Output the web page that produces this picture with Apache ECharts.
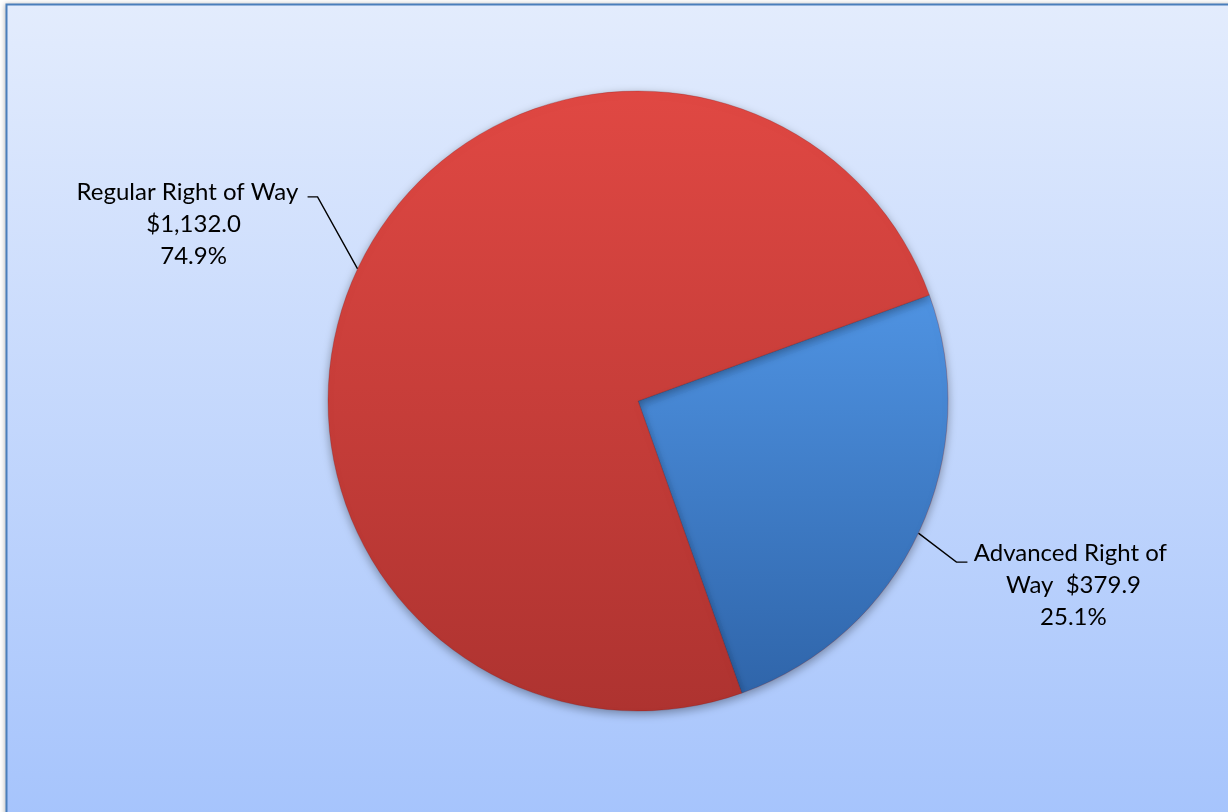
<!DOCTYPE html>
<html>
<head>
<meta charset="utf-8">
<script src="https://cdn.jsdelivr.net/npm/echarts@6/dist/echarts.min.js"></script>
<style>
  html, body { margin: 0; padding: 0; background: #ffffff; overflow: hidden; }
  #chart { width: 1228px; height: 812px; }
</style>
</head>
<body>
<div id="chart"></div>
<script>
// Right of way spending split (millions of dollars)
const categories = ['Advanced Right of Way', 'Regular Right of Way'];
const values = [379.9, 1132.0];
// Label wrap widths per slice, so the text breaks onto lines like the printed labels
const labelWidths = [205, 250];

const sliceColors = [
  ['#4f93e2', '#2f65aa'],
  ['#e04843', '#ae3330']
];

// Leader-line shape per slice: elbow offset from the rim, then a short horizontal tail,
// and where the text block sits relative to the tail end.
const leaders = [
  { elbow: [38, 29], tail: 11, textDx: 106, textDy: -25 },
  { elbow: [-40, -72], tail: -10, textDx: -114, textDy: -21 }
];

function money(v) {
  return '$' + v.toLocaleString('en-US', { minimumFractionDigits: 1, maximumFractionDigits: 1 });
}

const chart = echarts.init(document.getElementById('chart'), null, { renderer: 'canvas' });

const option = {
  animation: false,
  graphic: [{
    // panel fill with a soft drop shadow
    type: 'rect',
    z: -10,
    shape: { x: 6, y: 4, width: 1300, height: 900 },
    style: {
      fill: new echarts.graphic.LinearGradient(0, 0, 0, 812 / 900, [
        { offset: 0, color: '#e3ecfd' },
        { offset: 1, color: '#a6c4fc' }
      ]),
      shadowBlur: 5,
      shadowColor: 'rgba(0,0,0,0.3)',
      shadowOffsetX: -1
    }
  }, {
    // panel outline
    type: 'rect',
    z: -9,
    shape: { x: 6.5, y: 4.5, width: 1300, height: 900 },
    style: { fill: null, stroke: '#4a7ebb', lineWidth: 2 }
  }],
  series: [{
    type: 'pie',
    center: [638, 401],
    radius: 310,
    startAngle: 20,
    clockwise: true,
    percentPrecision: 1,
    data: categories.map((name, i) => ({
      name: name,
      value: values[i],
      itemStyle: {
        color: new echarts.graphic.LinearGradient(0, 0, 0, 1, [
          { offset: 0, color: sliceColors[i][0] },
          { offset: 1, color: sliceColors[i][1] }
        ])
      },
      label: { width: labelWidths[i] }
    })),
    itemStyle: {
      borderColor: 'rgba(120,20,20,0.25)',
      borderWidth: 1,
      shadowBlur: 10,
      shadowColor: 'rgba(0,0,0,0.35)',
      shadowOffsetY: 3
    },
    label: {
      show: true,
      position: 'outside',
      overflow: 'break',
      color: '#000000',
      fontFamily: 'Lato',
      fontSize: 24,
      lineHeight: 32,
      align: 'center',
      formatter: p => p.name + '  ' + money(p.value) + '\n' + p.percent.toFixed(1) + '%'
    },
    labelLine: {
      show: true,
      length: 40,
      length2: 10,
      lineStyle: { color: '#000000', width: 1.4 }
    },
    labelLayout: function (params) {
      const lead = leaders[params.dataIndex];
      const start = params.labelLinePoints[0];
      const elbow = [start[0] + lead.elbow[0], start[1] + lead.elbow[1]];
      const end = [elbow[0] + lead.tail, elbow[1]];
      return {
        x: end[0] + lead.textDx,
        y: end[1] + lead.textDy,
        align: 'center',
        verticalAlign: 'top',
        labelLinePoints: [start, elbow, end]
      };
    },
    emphasis: { disabled: true }
  }]
};

chart.setOption(option);
</script>
</body>
</html>
